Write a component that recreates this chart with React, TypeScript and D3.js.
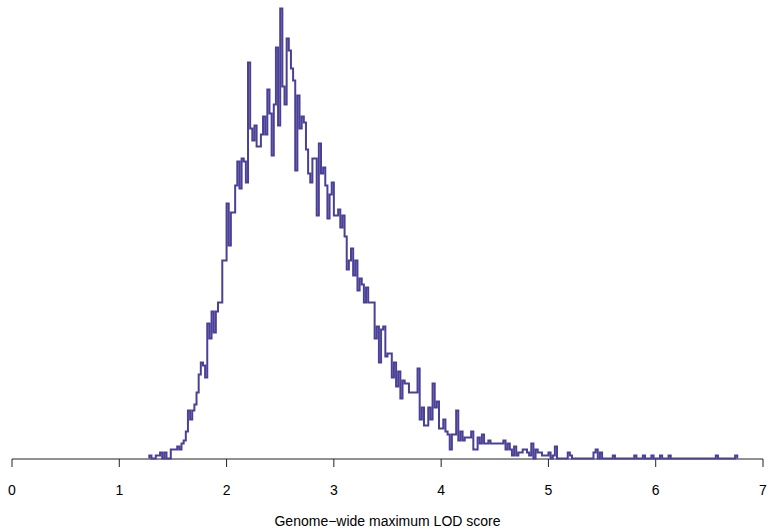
import React from "react";
import * as d3 from "d3";

const binStart = 1.28;
const binWidth = 0.02;
const counts = [
  1, 0, 0, 1, 1, 2, 0, 2, 0, 0,
  3, 3, 3, 4, 3, 5, 6, 9, 16, 13,
  16, 18, 22, 28, 32, 31, 27, 45, 40, 49,
  42, 49, 52, 52, 66, 66, 85, 71, 82, 82,
  91, 99, 90, 100, 99, 92, 132, 110, 106, 111,
  104, 104, 108, 114, 108, 123, 115, 101, 118, 137,
  111, 150, 124, 118, 140, 136, 130, 126, 96, 121,
  110, 114, 112, 103, 95, 92, 100, 100, 81, 105,
  95, 97, 91, 80, 88, 92, 81, 81, 83, 77,
  81, 74, 63, 66, 70, 61, 66, 56, 60, 58,
  52, 57, 52, 52, 52, 40, 44, 32, 43, 44,
  34, 35, 35, 27, 32, 24, 29, 20, 26, 25,
  25, 22, 22, 22, 22, 30, 13, 17, 11, 11,
  17, 13, 25, 17, 19, 10, 10, 13, 9, 8,
  3, 8, 8, 16, 6, 9, 6, 7, 7, 7,
  9, 3, 3, 7, 5, 8, 5, 5, 6, 5,
  5, 5, 5, 5, 5, 6, 3, 5, 3, 1,
  4, 1, 2, 2, 3, 3, 2, 1, 5, 0,
  3, 2, 2, 1, 1, 1, 2, 0, 1, 4,
  0, 0, 0, 0, 0, 2, 1, 0, 0, 0,
  0, 0, 0, 0, 0, 0, 0, 2, 3, 0,
  2, 0, 0, 0, 0, 0, 1, 0, 0, 0,
  0, 0, 0, 0, 0, 0, 1, 0, 0, 0,
  1, 0, 0, 0, 1, 0, 0, 0, 1, 0,
  0, 0, 1, 0, 0, 0, 0, 0, 0, 0,
  0, 0, 0, 0, 0, 0, 0, 0, 0, 0,
  0, 0, 0, 0, 1, 0, 0, 0, 0, 0,
  0, 0, 0, 1,
];
const xTicks = [0, 1, 2, 3, 4, 5, 6, 7];
const xLabel = "Genome\u2212wide maximum LOD score";

const W = 770;
const H = 530;

export default function App() {
  const x = d3.scaleLinear().domain([0, 7]).range([12, 763]);
  const y = d3.scaleLinear().domain([0, 150]).range([458.5, 8.5]);

  const pts: [number, number][] = [[binStart, 0]];
  counts.forEach((c, i) => pts.push([binStart + i * binWidth, c]));
  const endX = binStart + counts.length * binWidth;
  pts.push([endX, counts[counts.length - 1]]);
  pts.push([endX, 0]);

  const line = d3
    .line<[number, number]>()
    .x((d) => x(d[0]))
    .y((d) => y(d[1]))
    .curve(d3.curveStepAfter);

  const font = "'Liberation Sans', Arial, Helvetica, sans-serif";
  const base = y(0) + 0.5;

  return (
    <svg
      width={W}
      height={H}
      style={{ position: "absolute", left: 0, top: 0, background: "#fff" }}
    >
      <line x1={x(0)} x2={x(7)} y1={base} y2={base} stroke="#222" strokeWidth={1} />
      {xTicks.map((t) => (
        <g key={t}>
          <line x1={x(t)} x2={x(t)} y1={base} y2={base + 8} stroke="#222" strokeWidth={1} />
          <text
            x={x(t)}
            y={base + 36}
            textAnchor="middle"
            fontFamily={font}
            fontSize={14}
            fill="#000"
          >
            {t}
          </text>
        </g>
      ))}
      <path d={line(pts) || ""} fill="none" stroke="#4a4197" strokeWidth={2} strokeLinejoin="miter" />
      <text
        x={(x(0) + x(7)) / 2}
        y={526}
        textAnchor="middle"
        fontFamily={font}
        fontSize={14}
        fill="#000"
      >
        {xLabel}
      </text>
    </svg>
  );
}
